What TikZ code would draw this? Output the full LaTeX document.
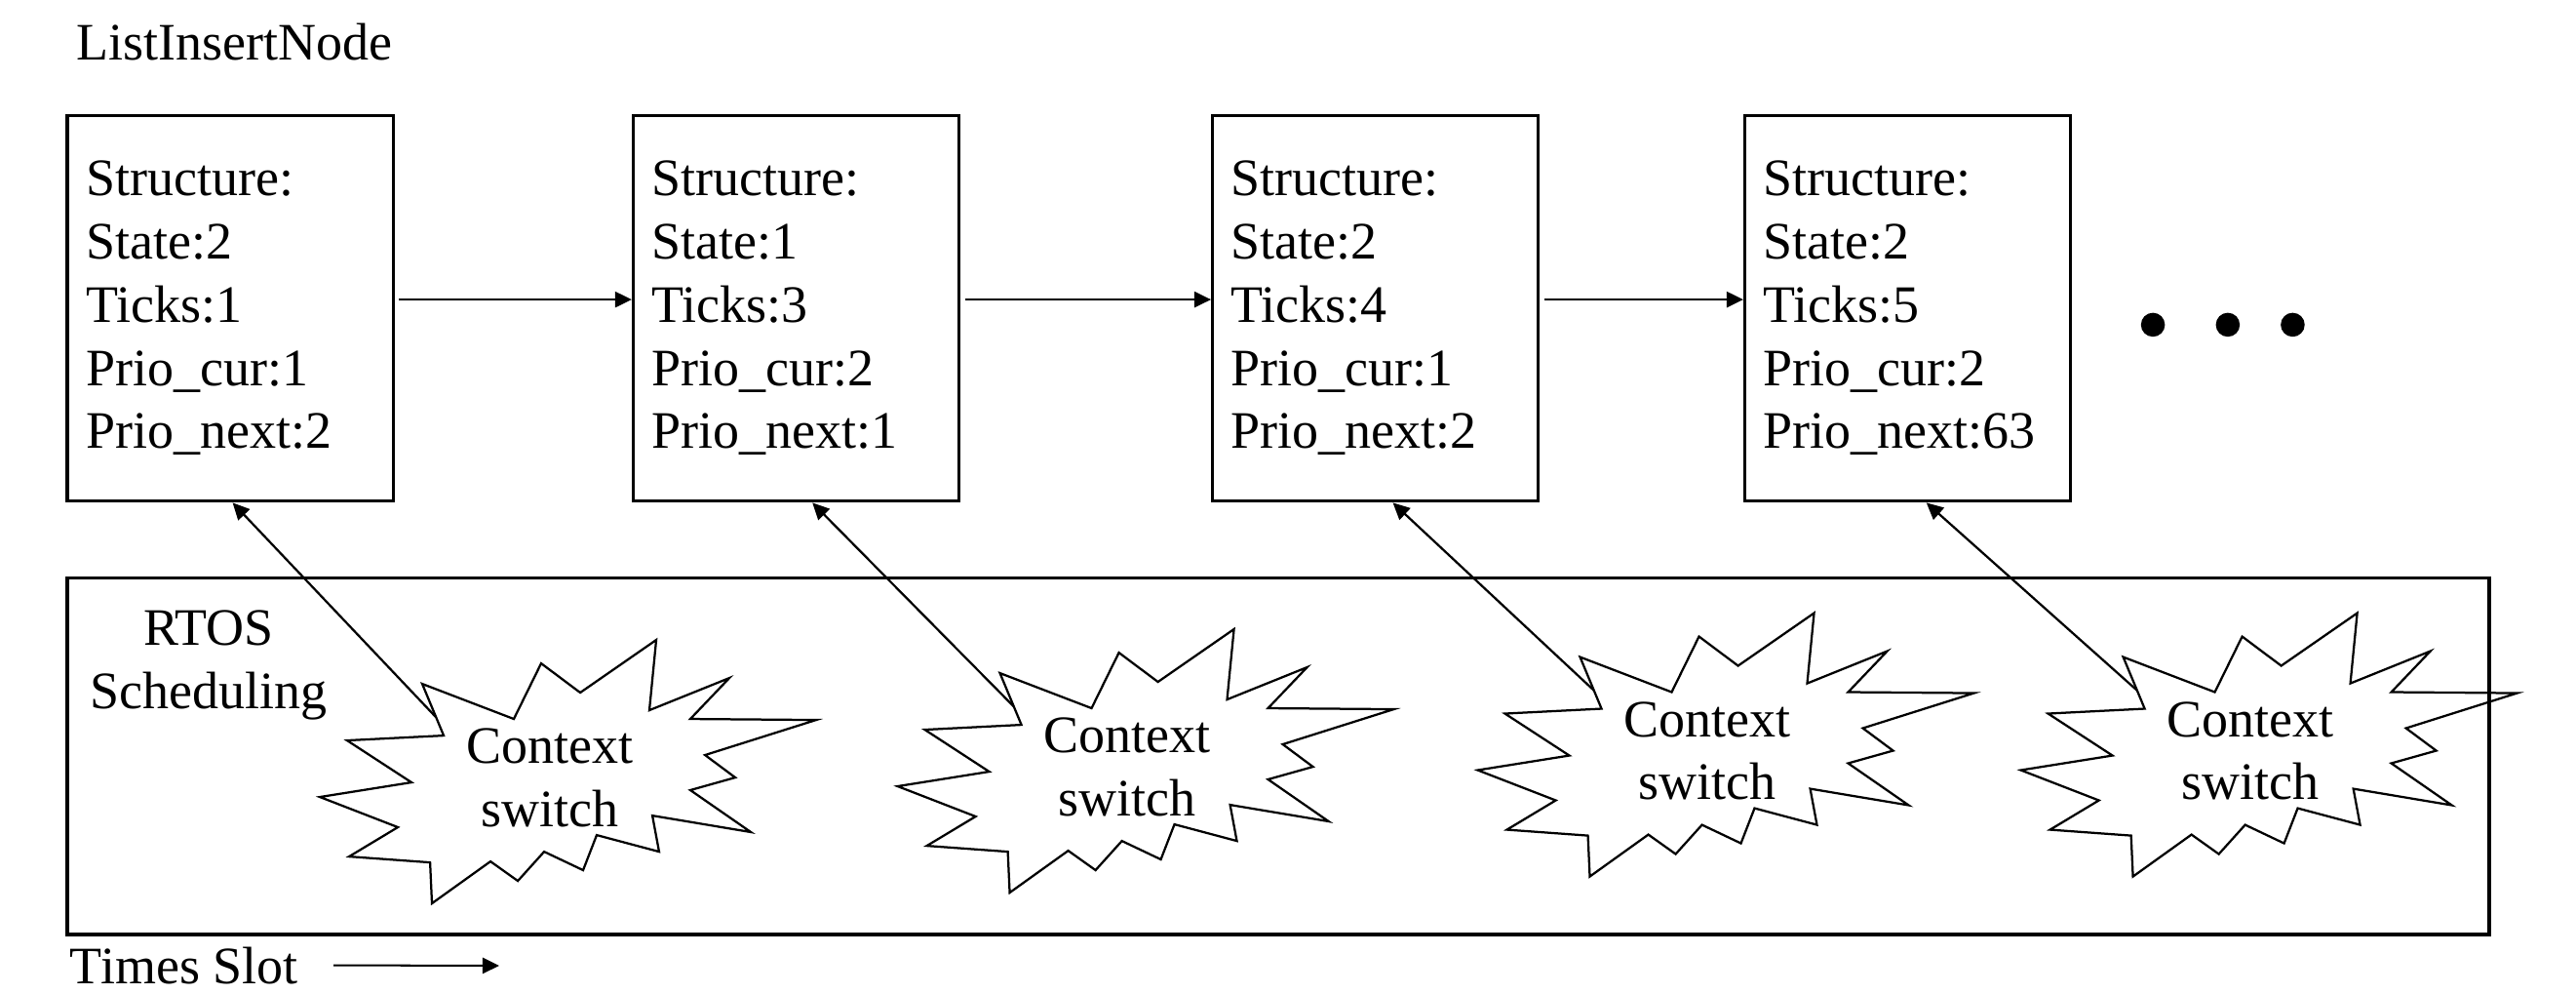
\documentclass[tikz,border=0pt]{standalone}
\usepackage{fontspec}
\setmainfont{Liberation Serif}
\usetikzlibrary{arrows.meta}

\tikzset{
    txt/.style={inner sep=0pt, font=\fontsize{12}{14.4}\selectfont},
    entry/.style={txt, draw, line width=0.7pt, minimum width=2.61cm,
        minimum height=3.09cm, text width=2.31cm, align=left},
    link/.style={line width=0.45pt, -{Triangle[length=3.8pt, width=3.6pt]}},
    burst/.pic={
        \draw [line width=0.5pt] (-1.168,0.703) -- (-0.996,0.289) -- (-1.770,0.250)
            -- (-1.254,-0.086) -- (-1.988,-0.203) -- (-1.363,-0.445) -- (-1.754,-0.680)
            -- (-1.105,-0.727) -- (-1.090,-1.055) -- (-0.621,-0.719) -- (-0.402,-0.875)
            -- (-0.191,-0.641) -- (0.121,-0.789) -- (0.230,-0.508) -- (0.730,-0.641)
            -- (0.676,-0.352) -- (1.465,-0.484) -- (0.980,-0.148) -- (1.340,-0.047)
            -- (1.098,0.133) -- (1.988,0.414) -- (0.980,0.422) -- (1.293,0.750)
            -- (0.652,0.492) -- (0.707,1.055) -- (0.098,0.633) -- (-0.215,0.867)
            -- (-0.434,0.422) -- cycle;
        \node [txt, align=center, anchor=north] (-txt) at (-0.148,0.352) {Context\\switch};
        \coordinate (-tail) at (-1.059,0.4375);
    }
}

\begin{document}
\begin{tikzpicture}
    \useasboundingbox (0, 0) rectangle (20.64, 7.953);

    \node [txt, anchor=base west] (title) at (0.609, 7.469) {ListInsertNode};

    \node [entry] (b1) at (1.844, 5.484)
        {Structure:\\State:2\\Ticks:1\\Prio\_cur:1\\Prio\_next:2};
    \node [entry] (b2) at (6.379, 5.484)
        {Structure:\\State:1\\Ticks:3\\Prio\_cur:2\\Prio\_next:1};
    \node [entry] (b3) at (11.02, 5.484)
        {Structure:\\State:2\\Ticks:4\\Prio\_cur:1\\Prio\_next:2};
    \node [entry] (b4) at (15.285, 5.484)
        {Structure:\\State:2\\Ticks:5\\Prio\_cur:2\\Prio\_next:63};

    \foreach \a/\b in {b1/b2, b2/b3, b3/b4}
        \draw [link, shorten <=1pt] ([yshift=0.07cm]\a.east) -- ([yshift=0.07cm]\b.west);

    \foreach \x in {17.25, 17.85, 18.37}
        \fill (\x, 5.352) circle (0.096);

    \node [draw, line width=0.7pt, inner sep=0pt, minimum width=19.406cm,
        minimum height=2.859cm] (sched) at (10.242, 1.898) {};
    \node [txt, align=center, anchor=north] (rtos) at (1.672, 3.070) {RTOS\\Scheduling};

    \pic (cs1) at (4.551, 1.773) {burst};
    \pic (cs2) at (9.180, 1.859) {burst};
    \pic (cs3) at (13.828, 1.988) {burst};
    \pic (cs4) at (18.180, 1.988) {burst};

    \foreach \i/\sh in {1/0.02cm, 2/0.13cm, 3/0.14cm, 4/0.15cm}
        \draw [link, line width=0.5pt] (cs\i-tail) -- ([xshift=\sh]b\i.south);

    \node [txt, anchor=base west] (slot) at (0.555, 0.078) {Times Slot};
    \coordinate (slotend) at (4.0, 0.219);
    \draw [link] ([xshift=0.28cm]slot.east) -- (slotend);
\end{tikzpicture}
\end{document}
